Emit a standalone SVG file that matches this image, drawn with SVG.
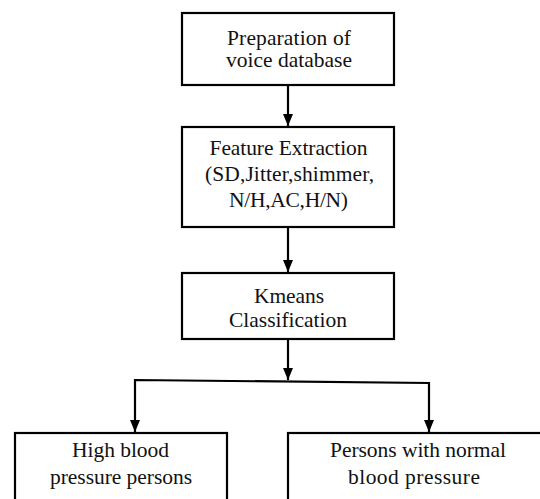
<svg xmlns="http://www.w3.org/2000/svg" width="540" height="499" viewBox="0 0 540 499">
<defs>
<style>
.box{fill:#fff;stroke:#000;stroke-width:2.2}
.t{font-family:"Liberation Serif","Times New Roman",serif;font-size:21.5px;fill:#111;text-anchor:middle}
.c{fill:none;stroke:#000;stroke-width:2.2}
</style>
<marker id="ah" markerWidth="12" markerHeight="10" viewBox="0 0 12 10" refX="12" refY="5" orient="auto-start-reverse" markerUnits="userSpaceOnUse">
<path d="M0,0 L12,5 L0,10 Z" fill="#000"/>
</marker>
</defs>
<rect width="540" height="499" fill="#fff"/>
<g id="connectors">
<line class="c" x1="288" y1="85" x2="288" y2="126" marker-end="url(#ah)"/>
<line class="c" x1="288" y1="227" x2="288" y2="272" marker-end="url(#ah)"/>
<line class="c" x1="288" y1="339" x2="288" y2="380" marker-end="url(#ah)"/>
<polyline class="c" points="135,432 135,380 429,383 429,432" marker-start="url(#ah)" marker-end="url(#ah)"/>
</g>
<g id="n1">
<rect class="box" x="182" y="13" width="212" height="72"/>
<text class="t" x="289" y="44.5" textLength="124" lengthAdjust="spacing">Preparation of</text>
<text class="t" x="289" y="67" textLength="126" lengthAdjust="spacing">voice database</text>
</g>
<g id="n2">
<rect class="box" x="182" y="127" width="212" height="100"/>
<text class="t" x="288.5" y="155" textLength="158" lengthAdjust="spacing">Feature Extraction</text>
<text class="t" x="289.5" y="181" textLength="169" lengthAdjust="spacing">(SD,Jitter,shimmer,</text>
<text class="t" x="288.5" y="207" textLength="119" lengthAdjust="spacing">N/H,AC,H/N)</text>
</g>
<g id="n3">
<rect class="box" x="182" y="273" width="212" height="66"/>
<text class="t" x="289" y="303" textLength="70" lengthAdjust="spacing">Kmeans</text>
<text class="t" x="288" y="326.5" textLength="118" lengthAdjust="spacing">Classification</text>
</g>
<g id="n4">
<rect class="box" x="15" y="433" width="212" height="80"/>
<text class="t" x="120.5" y="457" textLength="97" lengthAdjust="spacing">High blood</text>
<text class="t" x="121" y="483.5" textLength="142" lengthAdjust="spacing">pressure persons</text>
</g>
<g id="n5">
<rect class="box" x="288" y="433" width="260" height="80"/>
<text class="t" x="418" y="457" textLength="176" lengthAdjust="spacing">Persons with normal</text>
<text class="t" x="414" y="483.5" textLength="132" lengthAdjust="spacing">blood pressure</text>
</g>
</svg>
